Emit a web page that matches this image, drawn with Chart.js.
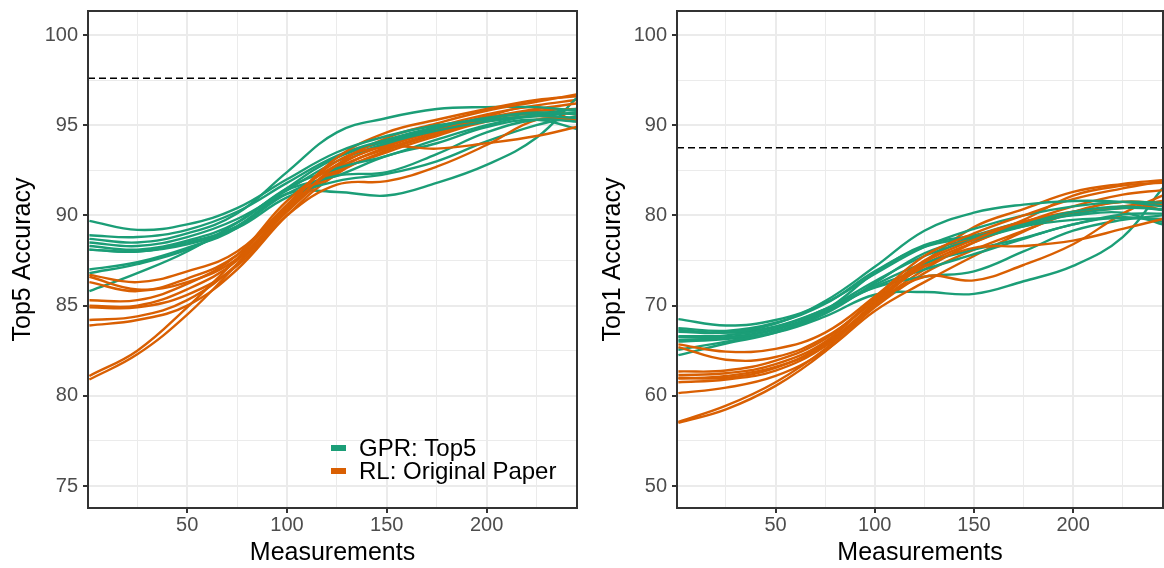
<!DOCTYPE html>
<html>
<head>
<meta charset="utf-8">
<script src="https://cdn.jsdelivr.net/npm/chart.js@4.4.1/dist/chart.umd.min.js"></script>
<style>
  html, body { margin: 0; padding: 0; background: #fff; }
  #wrap { position: relative; width: 1164px; height: 568px; }
  #top5Chart { position: absolute; left: 0; top: 0; }
  #top1Chart { position: absolute; left: 590px; top: 0; }
</style>
</head>
<body>
<div id="wrap">
  <canvas id="top5Chart" width="590" height="568"></canvas>
  <canvas id="top1Chart" width="574" height="568"></canvas>
</div>
<script>
// number of measurements at which each run was sampled
const measurements = [1, 25, 50, 75, 100, 125, 150, 175, 200, 225, 245];

// Top5 accuracy, one row per run
const top5Gpr = [
  [89.7, 89.2, 89.5, 90.4, 92.0, 93.5, 94.4, 95.0, 95.3, 95.5, 95.4],
  [88.9, 88.8, 89.2, 90.2, 91.8, 93.3, 94.2, 94.9, 95.4, 95.7, 95.6],
  [88.7, 88.5, 89.0, 90.1, 92.4, 94.6, 95.4, 95.9, 96.0, 96.0, 95.8],
  [88.5, 88.3, 88.8, 89.8, 91.4, 93.0, 94.0, 94.7, 95.2, 95.5, 95.7],
  [88.3, 88.1, 88.6, 89.6, 91.5, 92.6, 93.3, 94.2, 95.0, 95.6, 95.9],
  [88.1, 88.0, 88.5, 89.4, 91.2, 92.2, 92.4, 93.4, 94.6, 95.3, 95.2],
  [88.1, 88.0, 88.4, 89.3, 91.0, 91.9, 92.3, 93.0, 94.1, 95.0, 95.5],
  [87.0, 87.4, 88.2, 89.3, 91.5, 93.2, 94.1, 94.8, 95.4, 95.6, 95.3],
  [86.8, 87.3, 88.1, 89.4, 91.2, 91.3, 91.1, 91.8, 92.8, 94.3, 96.5],
  [85.8, 86.8, 88.0, 89.6, 91.4, 92.2, 93.3, 94.0, 94.9, 95.3, 94.8]
];
const top5Rl = [
  [86.7, 86.3, 86.9, 88.0, 90.6, 93.2, 94.6, 95.3, 95.9, 96.4, 96.6],
  [86.6, 85.9, 86.3, 87.6, 90.3, 92.8, 94.3, 95.1, 95.8, 96.3, 96.7],
  [86.3, 85.8, 86.5, 87.8, 90.5, 93.0, 93.8, 93.7, 94.0, 94.4, 94.9],
  [85.3, 85.3, 86.2, 87.8, 90.8, 92.8, 93.9, 94.7, 95.4, 95.9, 96.2],
  [85.0, 85.0, 85.9, 87.5, 90.4, 92.6, 93.7, 94.6, 95.4, 95.7, 95.6],
  [84.9, 84.9, 85.6, 87.2, 90.0, 91.7, 91.9, 92.7, 93.9, 95.3, 95.3],
  [84.2, 84.4, 85.3, 87.3, 90.2, 92.4, 93.5, 94.4, 95.2, 95.5, 95.3],
  [83.9, 84.2, 85.0, 87.0, 90.0, 92.3, 93.6, 94.5, 95.3, 95.8, 95.9],
  [81.1, 82.5, 84.9, 87.6, 90.5, 92.7, 94.0, 94.9, 95.6, 96.1, 96.4],
  [80.9, 82.3, 84.5, 87.3, 90.3, 92.5, 93.8, 94.7, 95.5, 96.0, 95.2]
];

// Top1 accuracy, one row per run
const top1Gpr = [
  [67.1, 67.0, 68.0, 70.5, 74.3, 78.3, 80.3, 81.2, 81.6, 81.5, 81.0],
  [68.5, 67.8, 68.4, 70.3, 73.5, 76.5, 78.5, 80.0, 81.0, 81.5, 81.4],
  [67.5, 67.2, 68.1, 70.2, 73.8, 76.5, 77.6, 79.0, 80.4, 81.0, 80.6],
  [66.6, 66.7, 67.6, 69.6, 72.7, 75.5, 77.3, 78.8, 80.1, 80.8, 80.7],
  [66.2, 66.4, 67.3, 69.4, 72.3, 74.7, 76.2, 77.5, 79.0, 80.1, 80.2],
  [65.1, 66.0, 67.1, 69.1, 72.5, 75.8, 77.5, 78.8, 79.5, 79.7, 79.6],
  [64.5, 65.8, 67.0, 69.3, 72.1, 74.0, 75.7, 77.4, 79.0, 79.8, 79.3],
  [67.3, 67.0, 67.7, 69.6, 72.0, 73.2, 73.8, 76.0, 78.3, 79.5, 80.0],
  [66.0, 66.3, 67.0, 68.8, 71.2, 71.5, 71.3, 72.7, 74.4, 77.6, 83.0],
  [66.5, 66.5, 67.4, 69.5, 73.6, 76.7, 77.8, 79.3, 80.0, 80.3, 79.0]
];
const top1Rl = [
  [65.7, 64.9, 65.2, 67.0, 71.0, 75.5, 78.0, 80.0, 81.8, 83.0, 83.8],
  [65.4, 64.0, 64.3, 66.5, 70.5, 74.8, 77.3, 79.5, 82.2, 83.3, 83.6],
  [62.7, 62.8, 63.9, 66.3, 70.7, 74.3, 76.4, 76.6, 77.2, 78.5, 79.6],
  [62.3, 62.5, 63.5, 66.0, 70.8, 75.0, 77.6, 79.3, 80.4, 80.8, 81.2],
  [61.9, 62.2, 63.2, 65.6, 70.2, 74.5, 77.0, 79.0, 80.3, 81.0, 81.6],
  [61.5, 61.8, 62.8, 65.5, 70.0, 73.2, 72.8, 74.5, 76.8, 80.2, 82.2],
  [60.3, 60.9, 62.2, 65.0, 69.4, 72.6, 75.5, 78.2, 80.4, 81.5, 81.3],
  [57.1, 58.9, 61.5, 65.2, 70.1, 74.0, 77.0, 79.2, 81.0, 82.3, 82.8],
  [57.0, 58.5, 61.1, 64.9, 69.8, 73.6, 76.2, 78.3, 80.3, 81.5, 80.6],
  [62.0, 62.0, 63.1, 65.8, 70.3, 74.8, 78.7, 80.7, 82.6, 83.5, 83.9]
];

// dashed reference levels
const top5Reference = 97.6;
const top1Reference = 87.5;

// tick labels
const xTicks = [50, 100, 150, 200];
const top5Ticks = [75, 80, 85, 90, 95, 100];
const top1Ticks = [50, 60, 70, 80, 90, 100];

const seriesNames = ['GPR: Top5', 'RL: Original Paper'];
const GREEN = '#1B9E77';
const ORANGE = '#D95F02';
const FONT = '"Liberation Sans", Arial, Helvetica, sans-serif';

// major ticks plus ggplot-style minor breaks half way between them
function withMinor(major, min, max) {
  const half = (major[1] - major[0]) / 2;
  const out = [];
  for (let v = major[0] - half; v <= max + 1e-9; v += half) {
    if (v >= min - 1e-9) out.push({ value: +v.toFixed(4) });
  }
  return out;
}

// no extra room for half tick labels, the layout padding decides the panel
function noLabelPadding(s) {
  s.paddingTop = 0;
  s.paddingBottom = 0;
  s.paddingLeft = 0;
  s.paddingRight = 0;
}

const panelBorder = {
  id: 'panelBorder',
  afterDraw(chart) {
    const a = chart.chartArea, c = chart.ctx;
    c.save();
    c.strokeStyle = '#333333';
    c.lineWidth = 2;
    c.strokeRect(a.left, a.top, a.right - a.left, a.bottom - a.top);
    c.restore();
  }
};

const insideLegend = {
  id: 'insideLegend',
  afterDraw(chart) {
    if (!chart.options.plugins.insideLegend.show) return;
    const c = chart.ctx;
    const colors = [GREEN, ORANGE];
    c.save();
    c.font = '24px ' + FONT;
    c.textBaseline = 'middle';
    seriesNames.forEach((name, i) => {
      const y = 448 + i * 23;
      c.fillStyle = colors[i];
      c.fillRect(331, y - 3, 15, 6);
      c.fillStyle = '#000';
      c.fillText(name, 359, y + 1);
    });
    c.restore();
  }
};

function makeChart(id, yTitle, yMin, yMax, yMajor, gpr, rl, refLevel, axisWidth, padRight, showLegend) {
  const xMin = 0.3, xMax = 245.3;
  const datasets = [];
  for (let i = 0; i < gpr.length; i++) {
    [[gpr[i], GREEN], [rl[i], ORANGE]].forEach(([run, col]) => {
      datasets.push({
        data: measurements.map((m, k) => ({ x: m, y: run[k] })),
        borderColor: col,
        borderWidth: 2.4,
        pointRadius: 0,
        tension: 0.4,
        clip: 0
      });
    });
  }
  datasets.push({
    data: [{ x: xMin, y: refLevel }, { x: xMax, y: refLevel }],
    borderColor: '#000',
    borderWidth: 1.5,
    borderDash: [7, 4],
    pointRadius: 0,
    clip: 0
  });

  const gridOpts = major => ({
    color: '#EBEBEB',
    lineWidth: ctx => (ctx.tick && major.includes(ctx.tick.value) ? 2 : 1),
    tickColor: ctx => (ctx.tick && major.includes(ctx.tick.value) ? '#333333' : 'rgba(0,0,0,0)'),
    tickWidth: 2,
    tickLength: 5,
    drawTicks: true
  });

  return new Chart(document.getElementById(id), {
    type: 'line',
    data: { datasets },
    options: {
      responsive: false,
      animation: false,
      layout: { padding: { top: 11, right: padRight, bottom: 0, left: 0 } },
      plugins: {
        legend: { display: false },
        tooltip: { enabled: false },
        insideLegend: { show: showLegend }
      },
      scales: {
        x: {
          type: 'linear',
          min: xMin,
          max: xMax,
          afterBuildTicks: s => { s.ticks = withMinor(xTicks, xMin, xMax); },
          afterFit: s => { s.height = 60; noLabelPadding(s); },
          border: { display: false },
          grid: gridOpts(xTicks),
          ticks: {
            autoSkip: false,
            maxRotation: 0,
            padding: 0,
            color: '#4D4D4D',
            font: { family: FONT, size: 20 },
            callback: v => (xTicks.includes(v) ? String(v) : '')
          },
          title: {
            display: true,
            text: 'Measurements',
            color: '#000',
            font: { family: FONT, size: 25 },
            padding: { top: 0, bottom: 0 }
          }
        },
        y: {
          type: 'linear',
          min: yMin,
          max: yMax,
          afterBuildTicks: s => { s.ticks = withMinor(yMajor, yMin, yMax); },
          afterFit: s => { s.width = axisWidth; noLabelPadding(s); },
          border: { display: false },
          grid: gridOpts(yMajor),
          ticks: {
            autoSkip: false,
            padding: 5,
            color: '#4D4D4D',
            font: { family: FONT, size: 20 },
            callback: v => (yMajor.includes(v) ? String(v) : '')
          },
          title: {
            display: true,
            text: yTitle,
            color: '#000',
            font: { family: FONT, size: 25 },
            padding: { top: 8, bottom: 0 }
          }
        }
      }
    },
    plugins: [panelBorder, insideLegend]
  });
}

makeChart('top5Chart', 'Top5 Accuracy', 73.78, 101.33, top5Ticks, top5Gpr, top5Rl, top5Reference, 88, 13, true);
makeChart('top1Chart', 'Top1 Accuracy', 47.56, 102.66, top1Ticks, top1Gpr, top1Rl, top1Reference, 87, 1, false);
</script>
</body>
</html>
